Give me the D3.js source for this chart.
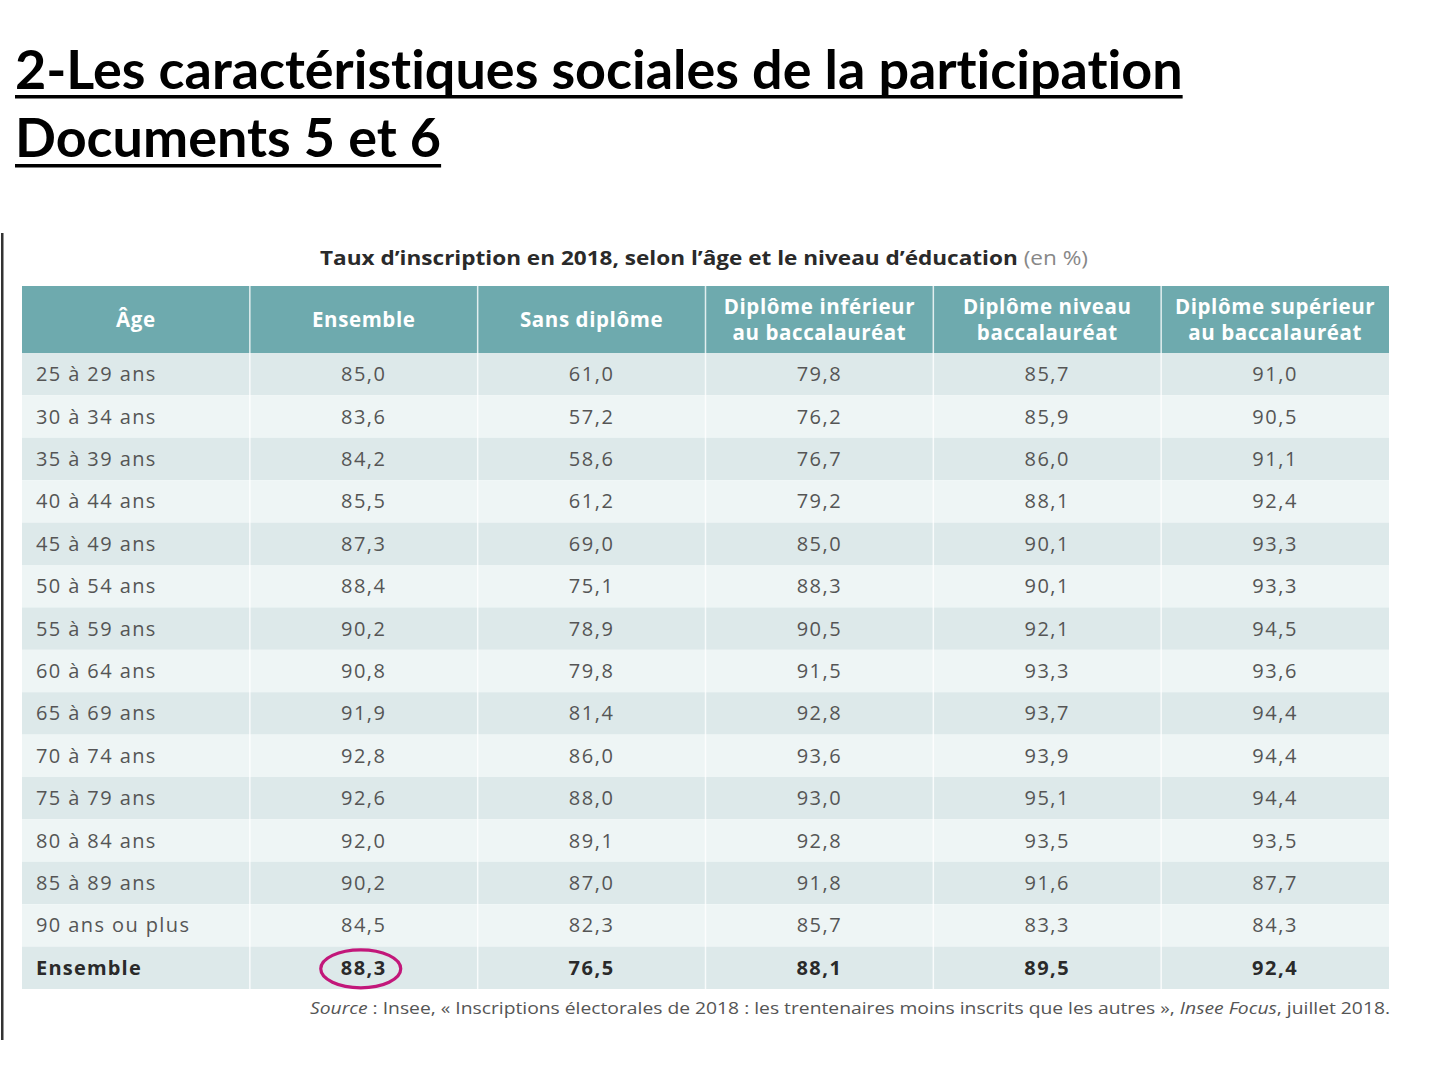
<!DOCTYPE html>
<html><head><meta charset="utf-8">
<script src="https://cdn.jsdelivr.net/npm/d3@7"></script>
<style>body{margin:0;background:#fff;} svg{display:block;} text{font-variant-ligatures:none;}</style>
</head><body>
<script>
const titleLines = ["2-Les caractéristiques sociales de la participation", "Documents 5 et 6"];
const caption = "Taux d’inscription en 2018, selon l’âge et le niveau d’éducation";
const captionUnit = "(en %)";
const columns = [["Âge"], ["Ensemble"], ["Sans diplôme"], ["Diplôme inférieur", "au baccalauréat"], ["Diplôme niveau", "baccalauréat"], ["Diplôme supérieur", "au baccalauréat"]];
const ageGroups = ["25 à 29 ans","30 à 34 ans","35 à 39 ans","40 à 44 ans","45 à 49 ans","50 à 54 ans","55 à 59 ans","60 à 64 ans","65 à 69 ans","70 à 74 ans","75 à 79 ans","80 à 84 ans","85 à 89 ans","90 ans ou plus","Ensemble"];
const ensemble      = ["85,0","83,6","84,2","85,5","87,3","88,4","90,2","90,8","91,9","92,8","92,6","92,0","90,2","84,5","88,3"];
const sansDiplome   = ["61,0","57,2","58,6","61,2","69,0","75,1","78,9","79,8","81,4","86,0","88,0","89,1","87,0","82,3","76,5"];
const infBac        = ["79,8","76,2","76,7","79,2","85,0","88,3","90,5","91,5","92,8","93,6","93,0","92,8","91,8","85,7","88,1"];
const niveauBac     = ["85,7","85,9","86,0","88,1","90,1","90,1","92,1","93,3","93,7","93,9","95,1","93,5","91,6","83,3","89,5"];
const supBac        = ["91,0","90,5","91,1","92,4","93,3","93,3","94,5","93,6","94,4","94,4","94,4","93,5","87,7","84,3","92,4"];
const highlighted = {row: "Ensemble", col: 1};
const sourceParts = [["Source", true], [" : Insee, « Inscriptions électorales de 2018 : les trentenaires moins inscrits que les autres », ", false], ["Insee Focus", true], [", juillet 2018.", false]];

const W = 1440, H = 1080;
const svg = d3.select("body").append("svg").attr("width", W).attr("height", H);

// slide title
const titleFont = "Lato, 'Open Sans', sans-serif";
const tl = svg.append("g");
const t1 = tl.append("text").attr("x", 15).attr("y", 89).text(titleLines[0])
  .attr("font-family", titleFont).attr("font-weight", 700).attr("font-size", 50).attr("fill", "#000");
let w1 = t1.node().getComputedTextLength();
const fs = 50 * 1168 / w1;
t1.attr("font-size", fs);
const t2 = tl.append("text").attr("x", 15).attr("y", 157).text(titleLines[1])
  .attr("font-family", titleFont).attr("font-weight", 700).attr("font-size", fs).attr("fill", "#000");
w1 = t1.node().getComputedTextLength();
const w2 = t2.node().getComputedTextLength();
tl.append("rect").attr("x", 15).attr("y", 95).attr("width", w1).attr("height", 3.5).attr("fill", "#000");
tl.append("rect").attr("x", 15).attr("y", 164).attr("width", w2).attr("height", 3.5).attr("fill", "#000");

// left vertical rule
svg.append("rect").attr("x", 1).attr("y", 233).attr("width", 2.5).attr("height", 807).attr("fill", "#333");

const font = "'Open Sans', 'Noto Sans', sans-serif";
// caption
const cap = svg.append("text").attr("x", 320).attr("y", 265).attr("font-family", font).attr("font-size", 19.5);
cap.append("tspan").text(caption).attr("font-weight", 700).attr("fill", "#2a2a2a");
cap.append("tspan").text(" " + captionUnit).attr("fill", "#888");
cap.attr("textLength", 768).attr("lengthAdjust", "spacingAndGlyphs");

// table
const x = d3.scaleBand().domain(d3.range(columns.length)).range([22, 1389]);
const y = d3.scaleBand().domain(ageGroups).range([353, 989]);
const headTop = 286, headBot = 353;
const valueCols = [ensemble, sansDiplome, infBac, niveauBac, supBac];

const table = svg.append("g");
// header
table.append("rect").attr("x", x.range()[0]).attr("y", headTop).attr("width", x.range()[1]-x.range()[0]).attr("height", headBot-headTop).attr("fill", "#6eaaae");
// rows
table.selectAll("rect.row").data(ageGroups).join("rect").attr("class", "row")
  .attr("x", x.range()[0]).attr("y", d => y(d)).attr("width", x.range()[1]-x.range()[0]).attr("height", y.bandwidth())
  .attr("fill", (d, i) => i % 2 === 0 ? "#dde9ea" : "#eef5f5");
// column separators
table.selectAll("line.sep").data(d3.range(1, columns.length)).join("line").attr("class", "sep")
  .attr("x1", d => x(d)).attr("x2", d => x(d)).attr("y1", headTop).attr("y2", 989)
  .attr("stroke", "#ffffff").attr("stroke-opacity", 0.8).attr("stroke-width", 1.5);

// header text
columns.forEach((lines, ci) => {
  const cx = x(ci) + x.bandwidth() / 2;
  const mid = (headTop + headBot) / 2;
  const lh = 26;
  lines.forEach((ln, li) => {
    table.append("text").attr("x", cx).attr("y", mid + (li - (lines.length - 1) / 2) * lh + 7)
      .attr("text-anchor", "middle").attr("font-family", font).attr("font-weight", 700).attr("font-size", 20.5)
      .attr("letter-spacing", 0.6).attr("fill", "#ffffff").text(ln);
  });
});

// body text
ageGroups.forEach((ag, ri) => {
  const last = ri === ageGroups.length - 1;
  const cy = y(ag) + y.bandwidth() / 2 + 7;
  table.append("text").attr("x", 36).attr("y", cy).attr("font-family", font).attr("font-size", 20)
    .attr("font-weight", last ? 700 : 400).attr("letter-spacing", last ? 1.2 : 1.4)
    .attr("fill", last ? "#2a2a2a" : "#555").text(ag);
  valueCols.forEach((col, vi) => {
    table.append("text").attr("x", x(vi + 1) + x.bandwidth() / 2).attr("y", cy)
      .attr("text-anchor", "middle").attr("font-family", font).attr("font-size", 20)
      .attr("font-weight", last ? 700 : 400).attr("letter-spacing", 1.5)
      .attr("fill", last ? "#2a2a2a" : "#555").text(col[ri]);
  });
});

// highlight ellipse
svg.append("ellipse").attr("cx", x(highlighted.col) + x.bandwidth() / 2 - 3).attr("cy", y(highlighted.row) + y.bandwidth() / 2 + 1)
  .attr("rx", 40).attr("ry", 19).attr("fill", "none").attr("stroke", "#c2177a").attr("stroke-width", 3.2);

// source
const src = svg.append("text").attr("x", 310).attr("y", 1014).attr("font-family", font).attr("font-size", 16.5).attr("fill", "#555");
sourceParts.forEach(([t, it]) => src.append("tspan").text(t).attr("font-style", it ? "italic" : "normal"));
src.attr("textLength", 1080).attr("lengthAdjust", "spacingAndGlyphs");
</script>
</body></html>
